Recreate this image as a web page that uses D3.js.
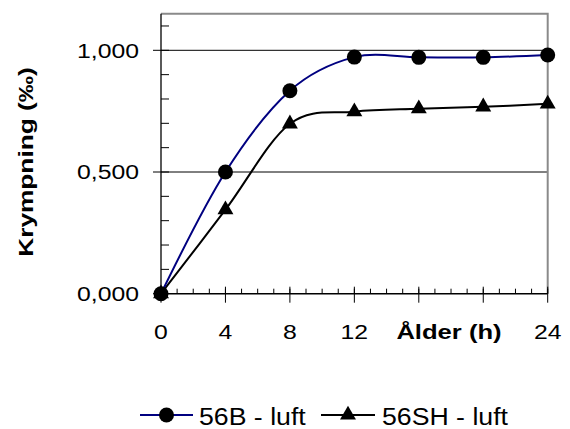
<!DOCTYPE html>
<html><head><meta charset="utf-8">
<script src="https://cdn.jsdelivr.net/npm/d3@7"></script>
<style>body{margin:0;background:#fff}text{font-family:"Liberation Sans",Arial,sans-serif;fill:#000}</style>
</head><body><svg id="c" width="570" height="429"></svg>
<script>
const hours = [0, 4, 8, 12, 16, 20, 24];
const series56B = [0, 0.50, 0.834, 0.972, 0.971, 0.971, 0.981];
const series56SH = [0, 0.345, 0.698, 0.748, 0.760, 0.768, 0.780];
const seriesNames = ["56B - luft", "56SH - luft"];
const yTicks = [0, 0.5, 1.0];
const yTickLabels = ["0,000", "0,500", "1,000"];
const xTickLabels = ["0", "4", "8", "12", "", "", "24"];
const yTitle = "Krympning (‰)";
const xTitle = "Ålder (h)";

const svg = d3.select("#c");
const x = d3.scaleLinear().domain([0, 24]).range([161, 547.7]);
const y = d3.scaleLinear().domain([0, 1.15]).range([293.7, 13.8]);
const SX = 1.18;

// gridlines
svg.append("g").selectAll("line").data(yTicks.filter(d => d > 0)).join("line")
  .attr("x1", x(0)).attr("x2", x(24)).attr("y1", d => y(d)).attr("y2", d => y(d))
  .attr("stroke", "#000").attr("stroke-width", 1);

// plot border (top & right)
svg.append("path").attr("d", `M${x(0)},${y(1.15)}H${x(24)}V${y(0)}`)
  .attr("fill", "none").attr("stroke", "#8a8a8a").attr("stroke-width", 2);

// y axis
const yAxis = svg.append("g");
yAxis.append("line").attr("x1", x(0)).attr("x2", x(0)).attr("y1", y(1.15)).attr("y2", y(0)).attr("stroke", "#000").attr("stroke-width", 1.3);
yAxis.selectAll(".mn").data(d3.range(1, 12).map(i => i / 10)).join("line")
  .attr("x1", x(0)).attr("x2", x(0) + 8).attr("y1", d => y(d)).attr("y2", d => y(d)).attr("stroke", "#000");
yAxis.selectAll(".mj").data(yTicks).join("line")
  .attr("x1", x(0) - 8).attr("x2", x(0)).attr("y1", d => y(d)).attr("y2", d => y(d)).attr("stroke", "#000");
yAxis.selectAll("text").data(yTicks).join("text")
  .attr("transform", d => `translate(139,${y(d) + 7.4}) scale(${SX},1)`)
  .attr("text-anchor", "end").attr("font-size", 21).text((d, i) => yTickLabels[i]);

// x axis
const xAxis = svg.append("g");
xAxis.selectAll(".mn").data(d3.range(0, 25)).join("line")
  .attr("x1", d => x(d)).attr("x2", d => x(d)).attr("y1", y(0) - 5).attr("y2", y(0)).attr("stroke", "#000");
xAxis.selectAll(".mj").data(hours).join("line")
  .attr("x1", d => x(d)).attr("x2", d => x(d)).attr("y1", y(0) - 7).attr("y2", y(0) + 9).attr("stroke", "#000");
xAxis.append("line").attr("x1", x(0)).attr("x2", x(24)).attr("y1", y(0)).attr("y2", y(0)).attr("stroke", "#000").attr("stroke-width", 1.6);
xAxis.selectAll("text").data(hours).join("text")
  .attr("transform", d => `translate(${x(d)},339) scale(${SX},1)`)
  .attr("text-anchor", "middle").attr("font-size", 21).text((d, i) => xTickLabels[i]);

// titles
svg.append("text").attr("transform", `translate(449,339) scale(1.22,1)`)
  .attr("text-anchor", "middle").attr("font-size", 21).attr("font-weight", "bold").text(xTitle);
svg.append("text").attr("transform", `translate(33,162) rotate(-90) scale(1.25,1)`)
  .attr("text-anchor", "middle").attr("font-size", 21).attr("font-weight", "bold").text(yTitle);

// lines
const line = d3.line().x((d, i) => x(hours[i])).y(d => y(d)).curve(d3.curveCardinal.tension(0));
svg.append("path").datum(series56SH).attr("d", line).attr("fill", "none").attr("stroke", "#000").attr("stroke-width", 2);
svg.append("path").datum(series56B).attr("d", line).attr("fill", "none").attr("stroke", "#000080").attr("stroke-width", 2);

const tri = d3.symbol().type(d3.symbolTriangle).size(110);
svg.append("g").selectAll("path").data(series56SH).join("path")
  .attr("transform", (d, i) => `translate(${x(hours[i])},${y(d)})`).attr("d", tri).attr("fill", "#000");
svg.append("g").selectAll("circle").data(series56B).join("circle")
  .attr("cx", (d, i) => x(hours[i])).attr("cy", d => y(d)).attr("r", 7.5).attr("fill", "#000");

// legend
const lg = svg.append("g");
lg.append("line").attr("x1", 140).attr("x2", 193).attr("y1", 415).attr("y2", 415).attr("stroke", "#000080").attr("stroke-width", 2);
lg.append("circle").attr("cx", 166.5).attr("cy", 415).attr("r", 7.5).attr("fill", "#000");
lg.append("text").attr("transform", `translate(199,424.5) scale(1.16,1)`).attr("font-size", 23).text(seriesNames[0]);
lg.append("line").attr("x1", 321).attr("x2", 375).attr("y1", 415).attr("y2", 415).attr("stroke", "#000").attr("stroke-width", 2);
lg.append("path").attr("transform", "translate(348,415)").attr("d", tri).attr("fill", "#000");
lg.append("text").attr("transform", `translate(382,424.5) scale(1.16,1)`).attr("font-size", 23).text(seriesNames[1]);
</script></body></html>
